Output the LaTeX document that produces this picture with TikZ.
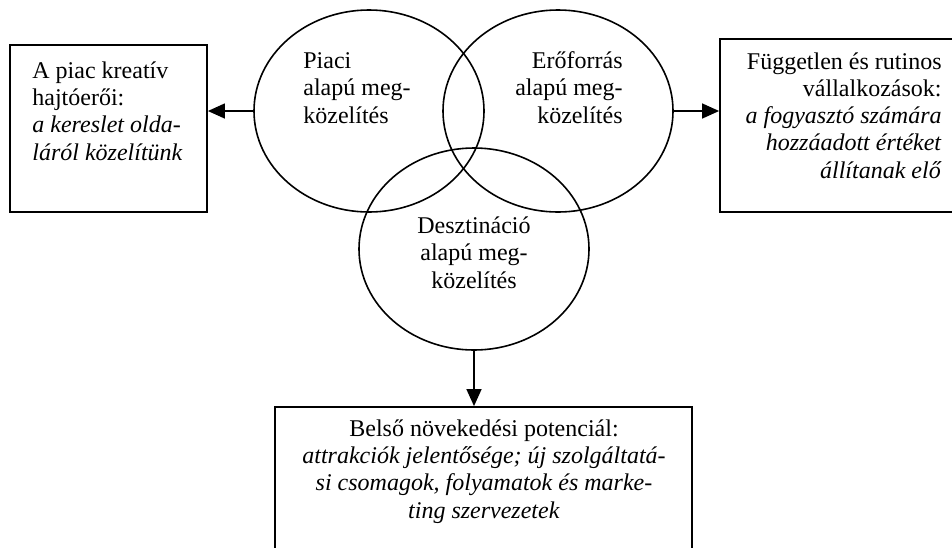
\documentclass[tikz,border=0pt]{standalone}
\usepackage{fontspec}
\setmainfont{Liberation Serif}
\usepackage{tikz}
\usetikzlibrary{shapes.geometric, arrows.meta}
\tikzset{venn/.style={draw, ellipse, line width=0.8pt, inner sep=0pt, minimum width=115pt, minimum height=101pt}}
\tikzset{outbox/.style={draw, rectangle, line width=0.9pt, inner sep=0pt}}
\tikzset{arrowline/.style={-{Triangle[length=8.5pt, width=7.5pt]}, line width=0.7pt}}
\tikzset{vtext/.style={inner sep=0pt, font=\fontsize{12}{13.6}\selectfont}}

\begin{document}
\begin{tikzpicture}[x=0.5pt, y=-0.5pt]
\useasboundingbox (0,0) rectangle (952,547);

% Draw the three overlapping ellipses
\node[venn] (piaci) at (369,111) {};
\node[venn] (eroforras) at (558,111) {};
\node[venn] (desztinacio) at (474,249) {};

% Texts inside the ellipses (anchored at the last baseline)
\node[vtext, anchor=base west, align=left] (piacitext) at (303,123) {Piaci\\alapú meg-\\közelítés};
\node[vtext, anchor=base east, align=right] (eroforrastext) at (623,123) {Erőforrás\\alapú meg-\\közelítés};
\node[vtext, anchor=base, align=center] (desztinaciotext) at (474,288) {Desztináció\\alapú meg-\\közelítés};

% Draw the three outer boxes
\node[outbox, minimum width=98.5pt, minimum height=83.5pt] (kreativ) at (108.5,128.5) {};
\node[outbox, minimum width=119pt, minimum height=86.5pt] (fuggetlen) at (839,125.5) {};
\node[outbox, minimum width=208.5pt, minimum height=76.5pt] (belso) at (483.5,483.5) {};

% Texts inside the boxes
\node[vtext, anchor=base west, align=left] (kreativtext) at (32,160)
  {A piac kreatív\\hajtóerői:\\\textit{a kereslet olda-}\\\textit{láról közelítünk}};
\node[vtext, anchor=base east, align=right] (fuggetlentext) at (942,178)
  {Független és rutinos\\vállalkozások:\\\textit{a fogyasztó számára}\\\textit{hozzáadott értéket}\\\textit{állítanak elő}};
\node[vtext, anchor=base, align=center] (belsotext) at (484,518)
  {Belső növekedési potenciál:\\\textit{attrakciók jelentősége; új szolgáltatá-}\\\textit{si csomagok, folyamatok és marke-}\\\textit{ting szervezetek}};

% Draw the arrows from the ellipses to the boxes
\draw[arrowline] (piaci.west) -- (kreativ.east |- piaci.west);
\draw[arrowline] (eroforras.east) -- (fuggetlen.west |- eroforras.east);
\draw[arrowline] (desztinacio.south) -- (belso.north -| desztinacio.south);

\end{tikzpicture}
\end{document}
